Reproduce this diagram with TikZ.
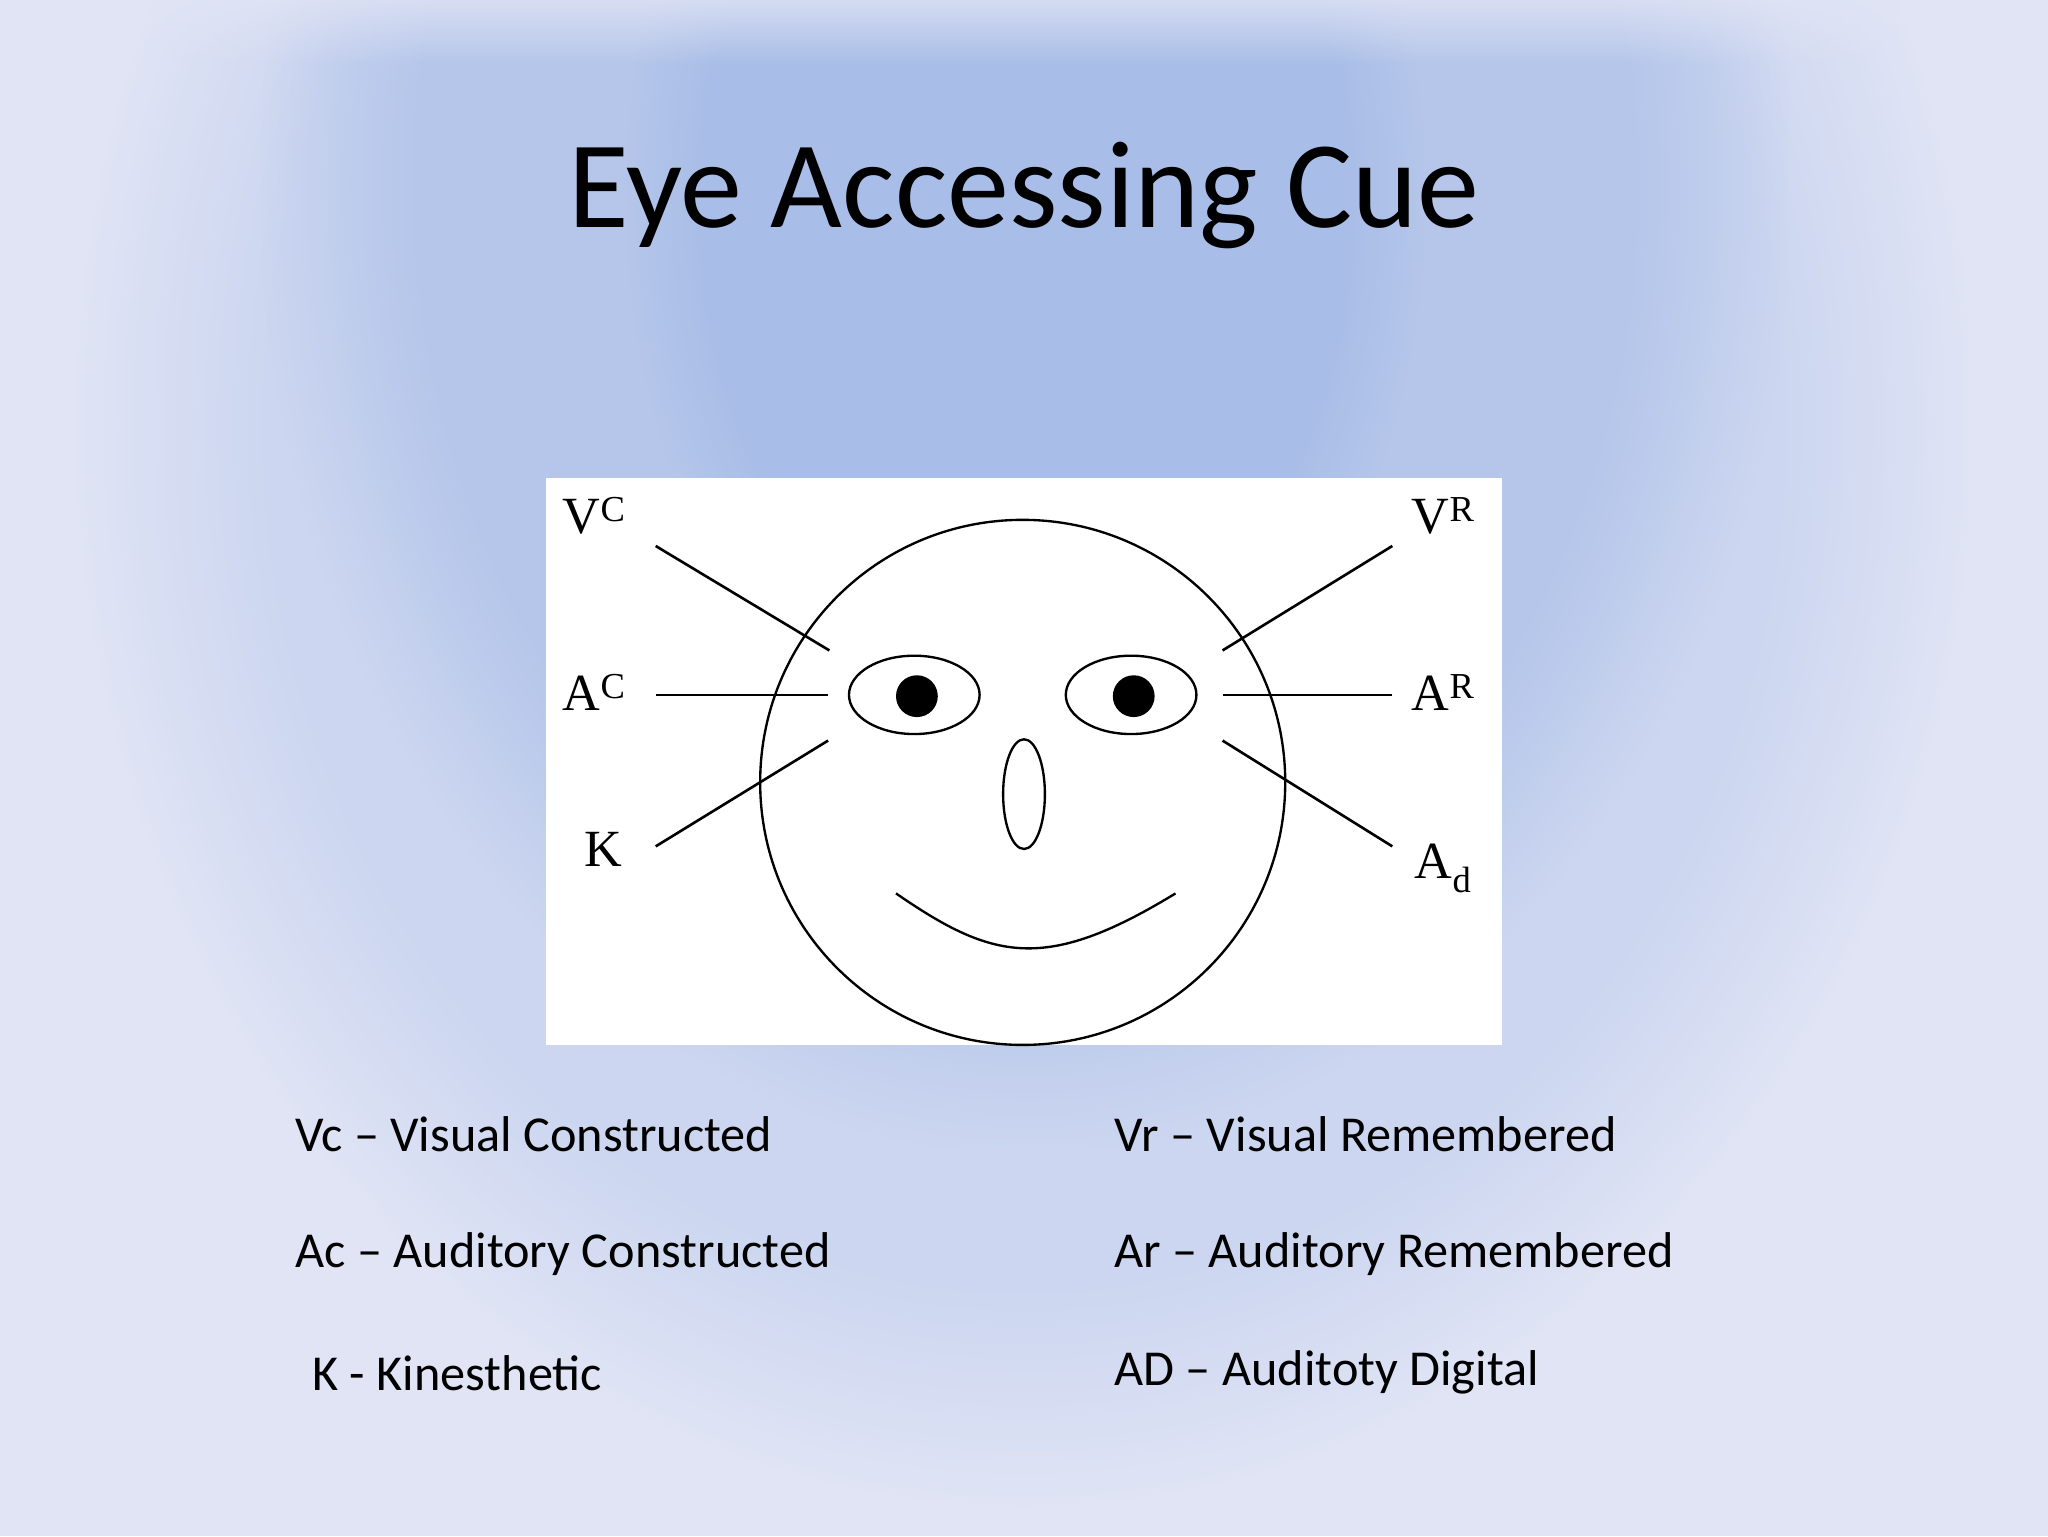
\documentclass[tikz,border=0pt]{standalone}
\usepackage{fontspec}
\setmainfont{Carlito}
\newfontfamily\serifl{Liberation Serif}
\usetikzlibrary{fadings}
\begin{document}
\begin{tikzpicture}[x=1pt,y=-1pt,
  lbl/.style={font=\serifl\fontsize{40}{40}\selectfont,inner sep=0pt},
  leg/.style={font=\fontsize{38.5}{40}\selectfont,anchor=west,inner sep=0pt},
  ln/.style={line width=2pt}]
\definecolor{bgl}{RGB}{224,228,245}
\definecolor{bgb}{RGB}{160,184,230}
\useasboundingbox (0,0) rectangle (1568,1176);
\fill[bgl] (0,0) rectangle (1568,1176);
\fill[bgb,opacity=0.3,path fading=circle with fuzzy edge 20 percent,fit fading=true] (60,-500) rectangle (1508,1150);
\fill[bgb,opacity=0.5,path fading=circle with fuzzy edge 20 percent,fit fading=true] (200,-600) rectangle (1370,880);
\fill[bgb,opacity=0.6,path fading=circle with fuzzy edge 20 percent,fit fading=true] (480,-300) rectangle (1090,600);
\fill[bgl,opacity=0.8,path fading=south] (0,0) rectangle (1568,50);
\node[font=\fontsize{95}{97}\selectfont] (title) at (784,150) {Eye Accessing Cue};
\fill[white] (418,366) rectangle (1150,800);
\draw[line width=1.8pt] (783,599) circle (201);
\draw[line width=1.8pt] (700,532) ellipse (50 and 30);
\draw[line width=1.8pt] (866,532) ellipse (50 and 30);
\fill (702,533) circle (16);
\fill (868,533) circle (16);
\draw[line width=1.8pt] (784,608) ellipse (16 and 42);
\draw[line width=1.8pt] (686,684) .. controls (760,735) and (800,745) .. (900,684);
\node[lbl] (vc) at (455,395) {V\textsuperscript{C}};
\node[lbl] (ac) at (455,530) {A\textsuperscript{C}};
\node[lbl] (k) at (462,650) {K};
\node[lbl] (vr) at (1105,395) {V\textsuperscript{R}};
\node[lbl] (ar) at (1105,530) {A\textsuperscript{R}};
\node[lbl] (ad) at (1105,665) {A\textsubscript{d}};
\coordinate (p1) at (635,498); \coordinate (p2) at (634,532); \coordinate (p3) at (634,567);
\coordinate (q1) at (936,498); \coordinate (q2) at (936,532); \coordinate (q3) at (936,567);
\coordinate (a1) at (502,418); \coordinate (a2) at (502,532); \coordinate (a3) at (502,648);
\coordinate (b1) at (1066,418); \coordinate (b2) at (1066,532); \coordinate (b3) at (1066,648);
\draw[ln] (a1) -- (p1);
\draw[ln] (a2) -- (p2);
\draw[ln] (a3) -- (p3);
\draw[ln] (b1) -- (q1);
\draw[ln] (b2) -- (q2);
\draw[ln] (b3) -- (q3);
\node[leg] (l1) at (226,868) {Vc – Visual Constructed};
\node[leg] (l2) at (226,960) {Ac – Auditory Constructed};
\node[leg] (l3) at (239,1051) {K - Kinesthetic};
\node[leg] (r1) at (853,868) {Vr – Visual Remembered};
\node[leg] (r2) at (853,960) {Ar – Auditory Remembered};
\node[leg] (r3) at (853,1051) {AD – Auditoty Digital};
\end{tikzpicture}
\end{document}
